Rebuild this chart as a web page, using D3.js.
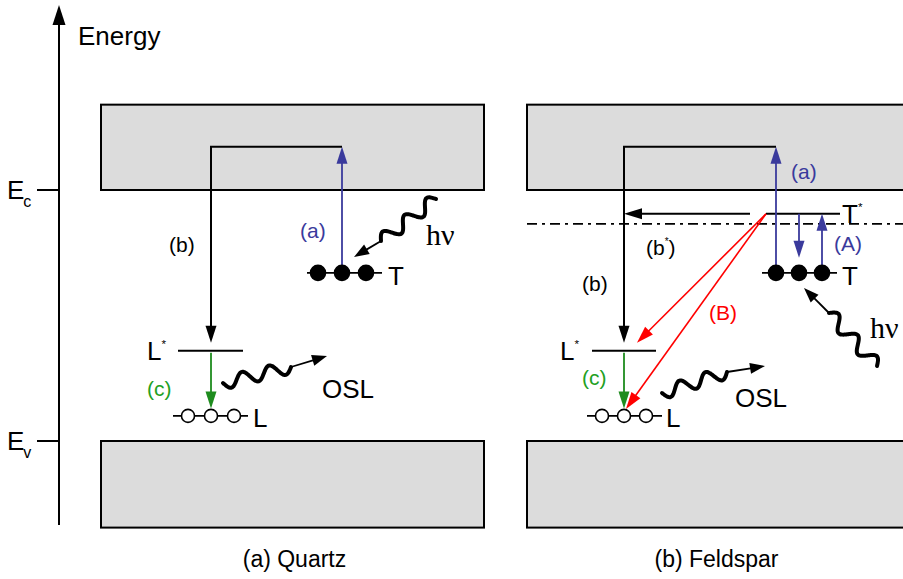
<!DOCTYPE html>
<html><head><meta charset="utf-8">
<script src="https://cdn.jsdelivr.net/npm/d3@7"></script>
<style>body{margin:0;background:#fff}svg{display:block}text{font-family:"Liberation Sans",Arial,sans-serif}</style>
</head><body>
<script>
// ---- data (energies relative: Ev = 0, Ec = 1) ----
const panels = ["(a) Quartz", "(b) Feldspar"];
const bandLabels = ["E", "E"];
const bandSubs = ["c", "v"];
const bandEnergies = [1, 0];
const levelNames = ["L", "L*", "T", "T*"];
const levelEnergies = [0.10, 0.36, 0.67, 0.905];
const tunnelEnergy = 0.865;           // dash-dot level (feldspar)
const conductionTop = 1.34, valenceBottom = -0.345, pathTop = 1.172;
const axisRange = [-0.335, 1.737];
const transitionLabels = ["(a)", "(b)", "(c)", "(b*)", "(A)", "(B)"];

const W = 903, H = 579;
const svg = d3.select("body").append("svg").attr("width", W).attr("height", H);
const y = d3.scaleLinear().domain([0, 1]).range([441, 190]);
const xp = d3.scaleBand().domain(panels).range([101, 910]).paddingInner(43 / 426);
const BLUE = "#3a3a9c", GREEN = "#1e8c1e", GREENT = "#22a022", RED = "#ff0000";
const BIG = 26, SMALL = 21;
const SERIF = "'Liberation Serif','DejaVu Serif',serif";

const g = svg.append("g");

function head(x, yy, ang, color, L = 17, w = 5.5) {
  const bx = x - L * Math.cos(ang), by = yy - L * Math.sin(ang);
  const nx = -Math.sin(ang), ny = Math.cos(ang);
  g.append("path").attr("d", `M${x},${yy}L${bx + w * nx},${by + w * ny}L${bx - w * nx},${by - w * ny}Z`)
    .attr("fill", color).attr("stroke", "none");
}
function arrow(x0, y0, x1, y1, color, sw = 1.8, L = 17, w = 5.5) {
  const ang = Math.atan2(y1 - y0, x1 - x0);
  g.append("line").attr("x1", x0).attr("y1", y0)
    .attr("x2", x1 - (L - 2) * Math.cos(ang)).attr("y2", y1 - (L - 2) * Math.sin(ang))
    .attr("stroke", color).attr("stroke-width", sw);
  head(x1, y1, ang, color, L, w);
}
function wave(x0, y0, x1, y1, periods, amp) {
  const dx = x1 - x0, dy = y1 - y0, len = Math.hypot(dx, dy);
  const nx = -dy / len, ny = dx / len;
  const pts = d3.range(0, 121).map(i => {
    const t = i / 120, o = amp * Math.sin(2 * Math.PI * periods * t);
    return [x0 + dx * t + nx * o, y0 + dy * t + ny * o];
  });
  g.append("path").attr("d", d3.line().curve(d3.curveBasis)(pts))
    .attr("fill", "none").attr("stroke", "#000").attr("stroke-width", 4).attr("stroke-linecap", "round");
}
function txt(x, yy, s, size, color = "#000", anchor = "start", family) {
  const t = g.append("text").attr("x", x).attr("y", yy).attr("font-size", size)
    .attr("fill", color).attr("text-anchor", anchor).text(s);
  if (family) t.style("font-family", family);
  return t;
}
function supText(x, yy, base, sup, size) {
  const t = g.append("text").attr("x", x).attr("y", yy).attr("font-size", size);
  t.append("tspan").text(base);
  t.append("tspan").attr("font-size", size * 0.45).attr("dy", -size * 0.45).text(sup);
}

// ---- energy axis ----
g.append("line").attr("x1", 59).attr("x2", 59).attr("y1", y(axisRange[0])).attr("y2", y(axisRange[1]) + 14)
  .attr("stroke", "#000").attr("stroke-width", 2);
head(59, y(axisRange[1]), -Math.PI / 2, "#000", 20, 6.5);
txt(78, 45, "Energy", BIG);
bandEnergies.forEach((e, i) => {
  g.append("line").attr("x1", 37).attr("x2", 59).attr("y1", y(e)).attr("y2", y(e)).attr("stroke", "#000").attr("stroke-width", 2);
  const t = g.append("text").attr("x", 7).attr("y", y(e) + 9).attr("font-size", 26);
  t.append("tspan").text(bandLabels[i]);
  t.append("tspan").attr("font-size", 16).attr("dy", 8).attr("dx", -1).text(bandSubs[i]);
});

// ---- band boxes ----
panels.forEach(p => {
  const x0 = xp(p), bw = xp.bandwidth();
  g.append("rect").attr("x", x0).attr("y", y(conductionTop)).attr("width", bw).attr("height", y(1) - y(conductionTop))
    .attr("fill", "#dcdcdc").attr("stroke", "#000").attr("stroke-width", 2);
  g.append("rect").attr("x", x0).attr("y", y(0)).attr("width", bw).attr("height", y(valenceBottom) - y(0))
    .attr("fill", "#dcdcdc").attr("stroke", "#000").attr("stroke-width", 2);
  g.append("text").attr("x", x0 + bw / 2 - (p === panels[1] ? 2 : -2)).attr("y", 567).attr("font-size", 23)
    .attr("text-anchor", "middle").text(p);
});

const yL = y(levelEnergies[0]), yLs = y(levelEnergies[1]), yT = y(levelEnergies[2]), yTs = y(levelEnergies[3]);

function trapRow(cx, yy, spacing, r, filled, x0, x1) {
  g.append("line").attr("x1", x0).attr("x2", x1).attr("y1", yy).attr("y2", yy).attr("stroke", "#000").attr("stroke-width", 1.8);
  [-1, 0, 1].forEach(k => g.append("circle").attr("cx", cx + k * spacing).attr("cy", yy).attr("r", r)
    .attr("fill", filled ? "#000" : "#fff").attr("stroke", "#000").attr("stroke-width", 1.6));
}

// ---- Quartz ----
{
  const X = xp(panels[0]);
  const cL = X + 110, cT = X + 241;
  arrow(cT, yT, cT, y(pathTop), BLUE, 1.8);
  g.append("path").attr("d", `M${cT},${y(pathTop)}H${cL}V${yLs - 20}`).attr("fill", "none").attr("stroke", "#000").attr("stroke-width", 2);
  arrow(cL, yLs - 30, cL, yLs - 8, "#000", 2);
  g.append("line").attr("x1", X + 77).attr("x2", X + 142).attr("y1", yLs).attr("y2", yLs).attr("stroke", "#000").attr("stroke-width", 2);
  arrow(cL, yLs + 2, cL, yL - 7.5, GREEN, 1.8);
  trapRow(cT, yT, 24, 7.5, true, X + 206, X + 281);
  trapRow(cL, yL, 23, 6.5, false, X + 72, X + 147);
  txt(X + 287, yT + 12, "T", BIG);
  txt(X + 152, yL + 11, "L", BIG);
  supText(X + 46, yLs + 9, "L", "*", BIG);
  txt(X + 199, 238, transitionLabels[0], SMALL, BLUE);
  txt(X + 68, 252, transitionLabels[1], SMALL);
  txt(X + 46, 396, transitionLabels[2], SMALL, GREENT);
  // hv
  wave(436, 199, 381, 241, 2.5, 6.5);
  arrow(381, 241, 354, 257, "#000", 1.8, 15, 5.5);
  txt(426, 245, "hν", 30, "#000", "start", SERIF);
  // OSL
  wave(223, 383, 291, 367, 2.5, 6.5);
  arrow(291, 367, 327, 356, "#000", 1.8, 15, 5.5);
  txt(322, 398, "OSL", BIG);
}

// ---- Feldspar ----
{
  const X = xp(panels[1]);
  const cL = X + 97, cT = X + 272, sp = 23;
  g.append("line").attr("x1", X + 239).attr("x2", X + 313).attr("y1", yTs).attr("y2", yTs).attr("stroke", "#000").attr("stroke-width", 2);
  g.append("line").attr("x1", X).attr("x2", W).attr("y1", y(tunnelEnergy)).attr("y2", y(tunnelEnergy))
    .attr("stroke", "#000").attr("stroke-width", 1.6).attr("stroke-dasharray", "10,5,3,5");
  arrow(cT - sp, yT, cT - sp, y(pathTop), BLUE, 1.8);
  g.append("path").attr("d", `M${cT - sp},${y(pathTop)}H${cL}V${yLs - 20}`).attr("fill", "none").attr("stroke", "#000").attr("stroke-width", 2);
  arrow(cL, yLs - 30, cL, yLs - 8, "#000", 2);
  arrow(X + 223, yTs, cL, yTs, "#000", 2, 18, 5.5);
  arrow(cT, yTs, cT, yT - 15, BLUE, 1.8);
  arrow(cT + sp, yT - 6, cT + sp, yTs, BLUE, 1.8);
  arrow(X + 239, yTs, X + 110, yLs - 8, RED, 1.6, 17, 5.5);
  arrow(X + 239, yTs, cL + 2, yL - 7, RED, 1.6, 17, 5.5);
  g.append("line").attr("x1", X + 65).attr("x2", X + 129).attr("y1", yLs).attr("y2", yLs).attr("stroke", "#000").attr("stroke-width", 2);
  arrow(cL, yLs + 2, cL, yL - 7.5, GREEN, 1.8);
  trapRow(cT, yT, sp, 7.5, true, X + 235, X + 310);
  trapRow(cL, yL, 22, 6.5, false, X + 60, X + 135);
  txt(X + 315, yT + 12, "T", BIG);
  supText(X + 315, yTs + 9, "T", "*", BIG);
  txt(X + 139, yL + 11, "L", BIG);
  supText(X + 33, yLs + 9, "L", "*", BIG);
  txt(X + 264, 179, transitionLabels[0], SMALL, BLUE);
  txt(X + 55, 291, transitionLabels[1], SMALL);
  txt(X + 55, 385, transitionLabels[2], SMALL, GREENT);
  {
    const t = g.append("text").attr("x", X + 119).attr("y", 255).attr("font-size", SMALL);
    t.append("tspan").text("(b");
    t.append("tspan").attr("font-size", 10).attr("dy", -10).text("*");
    t.append("tspan").attr("dy", 10).text(")");
  }
  txt(X + 307, 251, transitionLabels[4], SMALL, BLUE);
  txt(X + 182, 320, transitionLabels[5], SMALL, RED);
  // hv
  wave(877, 366, 829, 313, 2.5, 6.5);
  arrow(829, 313, 804, 288, "#000", 1.8, 15, 5.5);
  txt(870, 338, "hν", 30, "#000", "start", SERIF);
  // OSL
  wave(662, 393, 727, 372, 2.5, 6.5);
  arrow(727, 372, 765, 366, "#000", 1.8, 15, 5.5);
  txt(735, 407, "OSL", BIG);
}
</script>
</body></html>
